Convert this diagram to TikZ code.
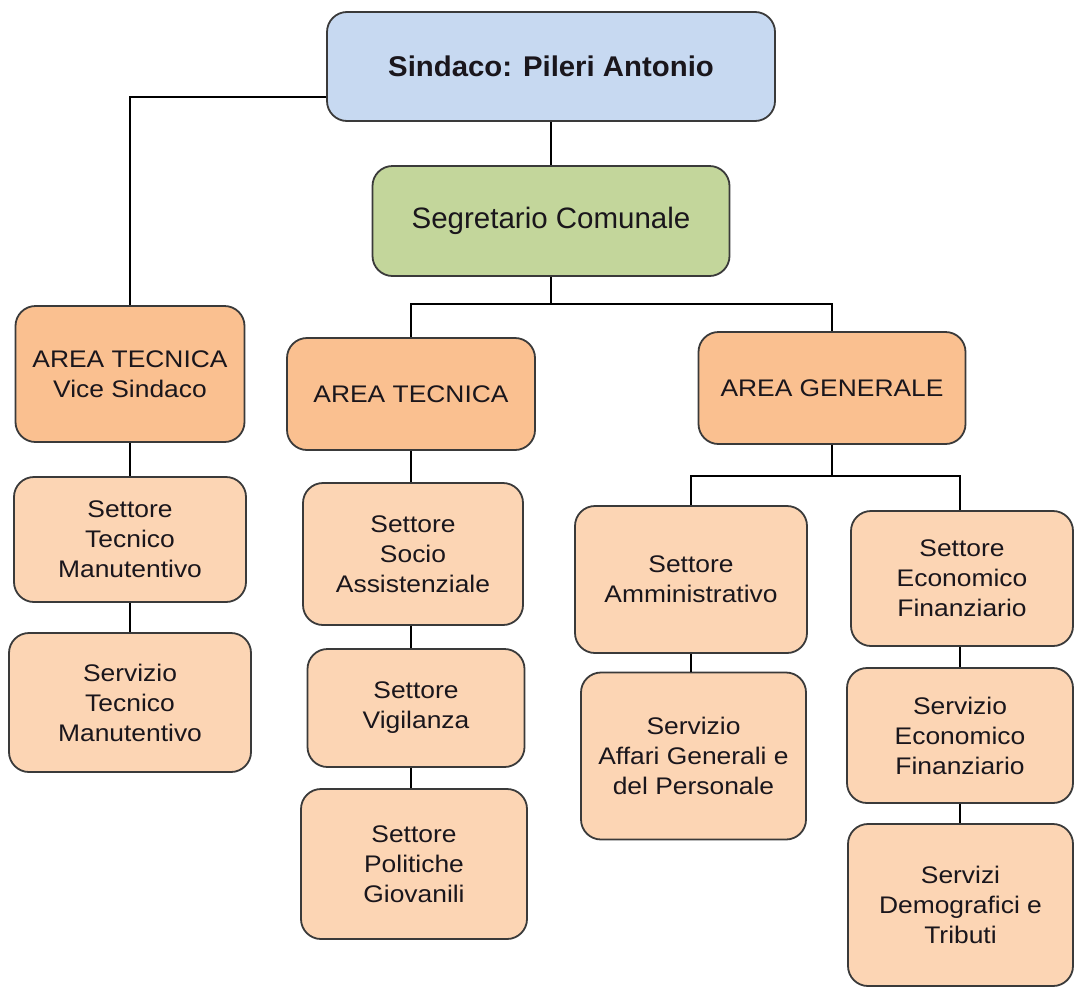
\documentclass[tikz,border=0pt]{standalone}
\usepackage{fontspec}
\setmainfont{Liberation Sans}
\newfontfamily\boxfont{Liberation Sans}[FakeStretch=1.1]
\newfontfamily\topfont{Liberation Sans}[FakeStretch=1.03]
\definecolor{sindblue}{RGB}{199,217,241}
\definecolor{segreen}{RGB}{195,214,155}
\definecolor{areaor}{RGB}{250,192,144}
\definecolor{subor}{RGB}{252,213,180}
\definecolor{boxline}{RGB}{58,58,58}
\definecolor{textcol}{RGB}{26,22,28}
\begin{document}
\begin{tikzpicture}[x=1pt,y=-1pt,
  box/.style={draw=boxline, line width=1.8pt, rounded corners=20pt, align=center,
    inner sep=0pt, text=textcol, font=\boxfont\fontsize{24}{30}\selectfont},
  areabox/.style={box, fill=areaor},
  subbox/.style={box, fill=subor},
  conn/.style={draw=black, line width=1.6pt}
]
\useasboundingbox[fill=white] (0,0) rectangle (1075,991);

% top
\node[box, fill=sindblue, minimum width=448pt, minimum height=109pt,
  font=\topfont\bfseries\fontsize{28.5}{34}\selectfont] (sind) at (551,66.5) {Sindaco: Pileri Antonio};
\node[box, fill=segreen, minimum width=357pt, minimum height=110pt,
  font=\fontsize{29.5}{35}\selectfont] (seg) at (551,221) {Segretario Comunale};

% left column
\node[areabox, minimum width=229pt, minimum height=136pt] (vice) at (130,374) {AREA TECNICA\\Vice Sindaco};
\node[subbox, minimum width=232pt, minimum height=125pt] (settec) at (130,539.5) {Settore\\Tecnico\\Manutentivo};
\node[subbox, minimum width=242pt, minimum height=139pt] (sertec) at (130,702.5) {Servizio\\Tecnico\\Manutentivo};

% middle column
\node[areabox, minimum width=248pt, minimum height=112pt] (atm) at (411,394) {AREA TECNICA};
\node[subbox, minimum width=220pt, minimum height=142pt] (socio) at (413,554) {Settore\\Socio\\Assistenziale};
\node[subbox, minimum width=217pt, minimum height=118pt] (vigil) at (416,708) {Settore\\Vigilanza};
\node[subbox, minimum width=226pt, minimum height=150pt] (polit) at (414,864) {Settore\\Politiche\\Giovanili};

% right
\node[areabox, minimum width=267pt, minimum height=112pt] (ag) at (832,388) {AREA GENERALE};
\node[subbox, minimum width=232pt, minimum height=147pt] (amm) at (691,579.5) {Settore\\Amministrativo};
\node[subbox, minimum width=225pt, minimum height=167pt] (affari) at (693.5,756) {Servizio\\Affari Generali e\\del Personale};
\node[subbox, minimum width=222pt, minimum height=135pt] (seteco) at (962,578.5) {Settore\\Economico\\Finanziario};
\node[subbox, minimum width=226pt, minimum height=135pt] (sereco) at (960,735.5) {Servizio\\Economico\\Finanziario};
\node[subbox, minimum width=225pt, minimum height=162pt] (demo) at (960.5,905) {Servizi\\Demografici e\\Tributi};

% junctions
\coordinate (j1) at (551,304);
\coordinate (j2) at (832,476);

% connectors
\draw[conn] (sind.south) -- (seg.north);
\draw[conn] ([yshift=-30.5pt]sind.west) -| (vice.north);
\draw[conn] (seg.south) -- (j1);
\draw[conn] (j1) -| (atm.north);
\draw[conn] (j1) -| (ag.north);
\draw[conn] (vice.south) -- (vice.south |- settec.north);
\draw[conn] (settec.south) -- (settec.south |- sertec.north);
\draw[conn] (atm.south) -- (atm.south |- socio.north);
\draw[conn] (atm.south |- socio.south) -- (atm.south |- vigil.north);
\draw[conn] (atm.south |- vigil.south) -- (atm.south |- polit.north);
\draw[conn] (ag.south) -- (j2);
\draw[conn] (j2) -| (amm.north);
\draw[conn] (j2) -| ([xshift=-2pt]seteco.north);
\draw[conn] (amm.south) -- (amm.south |- affari.north);
\draw[conn] ([xshift=-2pt]seteco.south) -- ([xshift=-2pt]seteco.south |- sereco.north);
\draw[conn] (sereco.south) -- (sereco.south |- demo.north);
\end{tikzpicture}
\end{document}
